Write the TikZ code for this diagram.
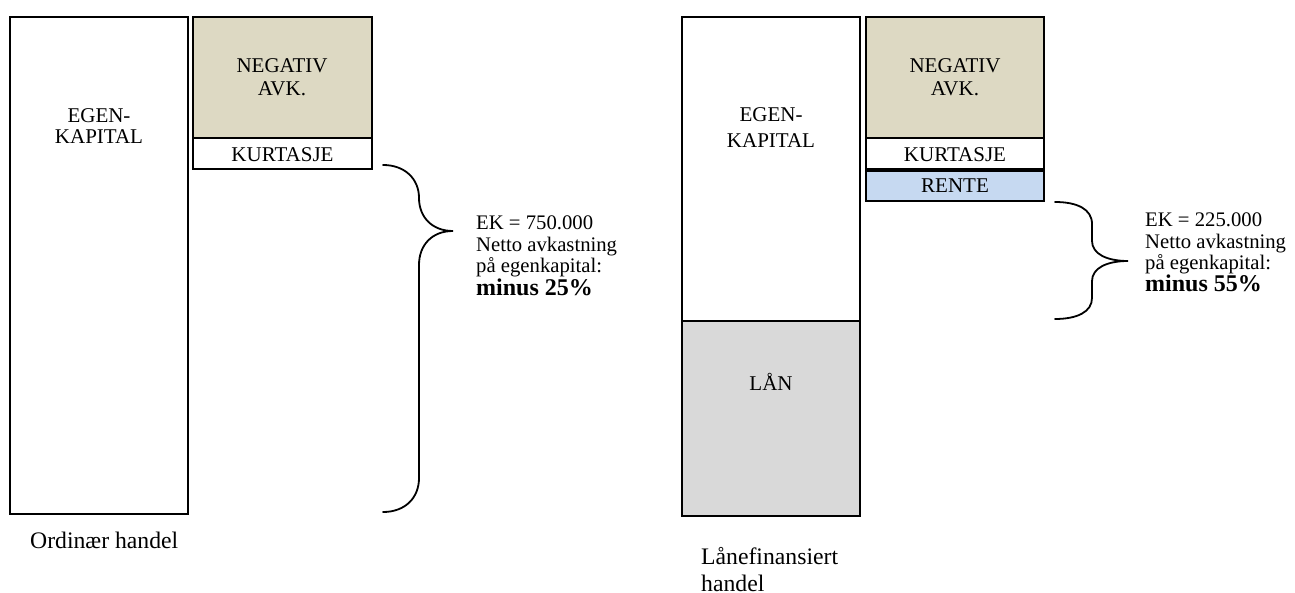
\documentclass[tikz,border=0pt]{standalone}
\usepackage{fontspec}
\setmainfont{Liberation Serif}
\definecolor{tanfill}{HTML}{DDD9C3}
\definecolor{rentblue}{HTML}{C6D9F1}
\definecolor{langray}{HTML}{D9D9D9}
\newcommand\mytight{\lineskiplimit=-50pt\relax\lineskip=0pt\relax}
\begin{document}
\begin{tikzpicture}[x=1pt,y=-1pt]
\tikzset{
  bx/.style={draw=black, line width=1.8pt, inner sep=0pt, outer sep=0pt, anchor=north west, fill=white},
  boxtxt/.style={inner sep=0pt, align=center, anchor=north},
  linetxt/.style={inner sep=0pt, anchor=base, font=\fontsize{21}{21}\selectfont},
  sidetxt/.style={inner sep=0pt, anchor=north west, align=left, font=\fontsize{20.7}{21.5}\selectfont\mytight},
  captxt/.style={inner sep=0pt, font=\fontsize{23.7}{26.7}\selectfont\mytight},
  bracepath/.style={draw=black, line width=1.8pt, line cap=round}
}
\useasboundingbox (0,0) rectangle (1295,593);

% left panel
\node[bx, minimum width=178pt, minimum height=497pt] (ekl) at (10,17) {};
\node[bx, fill=tanfill, minimum width=179pt, minimum height=121pt] (negl) at (193,17) {};
\node[bx, minimum width=179pt, minimum height=31pt] (kurl) at (193,138) {};

\node[boxtxt, font=\fontsize{21}{21.6}\selectfont\mytight] (tekl) at (99,108) {EGEN-\\KAPITAL};
\node[boxtxt, font=\fontsize{21}{23}\selectfont\mytight] (tnegl) at (282,58.6) {NEGATIV\\AVK.};
\node[linetxt] (tkurl) at (282.5,162) {KURTASJE};

\draw[bracepath] (383,165) .. controls (405,165) and (419,179) .. (419,198)
  .. controls (419,217) and (432,231) .. (453,231)
  .. controls (432,231) and (419,245) .. (419,265) -- (419,478)
  .. controls (419,498) and (405,512) .. (383,512);

\node[sidetxt] (sidel) at (476,216) {EK = 750.000\\Netto avkastning\\på egenkapital:\\[1.5pt]{\fontsize{24}{21}\selectfont\bfseries minus 25\%}};

\node[captxt, anchor=base west] (capl) at (30,548.5) {Ordinær handel};

% right panel
\node[bx, minimum width=178pt, minimum height=304pt] (ekr) at (682,17) {};
\node[bx, fill=langray, minimum width=178pt, minimum height=195pt] (lan) at (682,321) {};
\node[bx, fill=tanfill, minimum width=178pt, minimum height=121pt] (negr) at (866,17) {};
\node[bx, minimum width=178pt, minimum height=31pt] (kurr) at (866,138) {};
\node[bx, fill=rentblue, minimum width=178pt, minimum height=30pt] (rente) at (866,171) {};

\node[boxtxt, font=\fontsize{21}{26}\selectfont\mytight] (tekr) at (771,107.3) {EGEN-\\KAPITAL};
\node[boxtxt, font=\fontsize{21}{23}\selectfont\mytight] (tnegr) at (955,58.6) {NEGATIV\\AVK.};
\node[linetxt] (tkurr) at (955,162) {KURTASJE};
\node[linetxt] (trente) at (955,192.5) {RENTE};
\node[linetxt] (tlan) at (771,390) {LÅN};

\draw[bracepath] (1055,202) .. controls (1077,202) and (1092,209) .. (1092,224) -- (1092,241)
  .. controls (1092,254) and (1107,261) .. (1128,261)
  .. controls (1107,261) and (1092,268) .. (1092,281) -- (1092,298)
  .. controls (1092,312) and (1077,319) .. (1055,319);

\node[sidetxt] (sider) at (1145,213) {EK = 225.000\\Netto avkastning\\på egenkapital:\\[0pt]{\fontsize{24}{21}\selectfont\bfseries minus 55\%}};

\node[captxt, anchor=north west, align=left] (capr) at (701,547) {Lånefinansiert\\handel};
\end{tikzpicture}
\end{document}
